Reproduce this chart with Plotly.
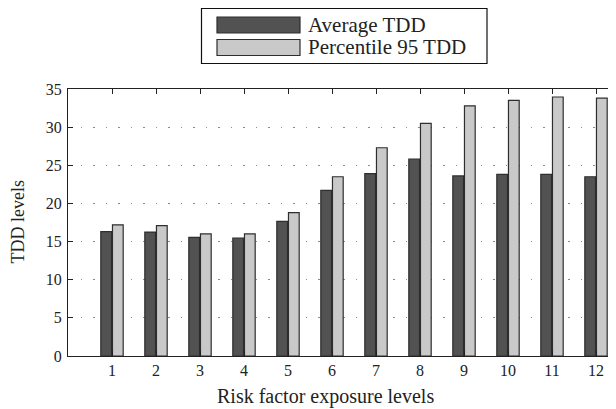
import plotly.graph_objects as go

categories = [str(i) for i in range(1, 13)]
series_names = ["Average TDD", "Percentile 95 TDD"]
average_tdd = [16.3, 16.25, 15.55, 15.45, 17.65, 21.7, 23.9, 25.8, 23.6, 23.8, 23.8, 23.5]
p95_tdd = [17.2, 17.1, 16.0, 16.0, 18.8, 23.5, 27.3, 30.5, 32.8, 33.5, 33.95, 33.8]
y_ticks = [0, 5, 10, 15, 20, 25, 30, 35]
x_title = "Risk factor exposure levels"
y_title = "TDD levels"

# The page body has an 8px margin, so the figure starts at (8, 8) in the window.
OFF = 8
W, H = 616 - OFF, 409 - OFF
L, R, T, B = 68 - OFF, 616 - OFF, 89 - OFF, 356 - OFF
FONT = "Liberation Serif, Times New Roman, serif"
DARK = "#525252"
LIGHT = "#c9c9c9"
EDGE = "#2e2e2e"

def px(x):
    return (x - OFF - L) / (R - L)

def py(y):
    return (B - (y - OFF)) / (B - T)

xs = list(range(1, 13))
fig = go.Figure()
fig.add_trace(go.Bar(x=xs, y=average_tdd, name=series_names[0],
                     marker=dict(color=DARK, line=dict(color=EDGE, width=1.2))))
fig.add_trace(go.Bar(x=xs, y=p95_tdd, name=series_names[1],
                     marker=dict(color=LIGHT, line=dict(color=EDGE, width=1.2))))

fig.update_layout(
    width=W, height=H,
    margin=dict(l=L, r=W - R, t=T, b=H - B, pad=0),
    paper_bgcolor="white", plot_bgcolor="white",
    barmode="group", bargap=0.47, bargroupgap=0.08,
    showlegend=False,
    font=dict(family=FONT, size=16, color="#222"),
    xaxis=dict(range=[0, (R - L) / 44.0], tickvals=xs, ticktext=categories,
               ticks="inside", ticklen=5, tickcolor="#222",
               showline=True, linecolor="#222", linewidth=1.2, mirror="ticks",
               showgrid=False, zeroline=False, tickfont=dict(size=16)),
    yaxis=dict(range=[0, 35], tickvals=y_ticks, ticks="inside", ticklen=5,
               tickcolor="#222", showline=True, linecolor="#222", linewidth=1.2,
               mirror=False, showgrid=True, gridcolor="#8a8a8a", gridwidth=1,
               griddash="1.5px,11px", zeroline=False, tickfont=dict(size=16),
               ticklabelstandoff=2),
    yaxis2=dict(overlaying="y", side="right", range=[0, 35], tickvals=y_ticks,
                ticks="inside", ticklen=5, tickcolor="#222", showticklabels=False,
                showgrid=False, zeroline=False, showline=False),
)

annotations = [
    dict(text=x_title, x=px(325), y=py(396), xref="paper", yref="paper",
         showarrow=False, font=dict(size=20, family=FONT, color="#222"),
         xanchor="center", yanchor="middle"),
    dict(text=y_title, x=px(17.5), y=py(222), xref="paper", yref="paper",
         showarrow=False, textangle=-90, font=dict(size=18, family=FONT, color="#222"),
         xanchor="center", yanchor="middle"),
]
shapes = [
    dict(type="rect", xref="paper", yref="paper", x0=px(201.5), x1=px(487),
         y0=py(8.5), y1=py(63.5), line=dict(color="#111", width=1.2), fillcolor="white"),
]
legend_rows = [(25, DARK), (47.5, LIGHT)]
for (cy, col), name in zip(legend_rows, series_names):
    shapes.append(dict(type="rect", xref="paper", yref="paper", x0=px(217), x1=px(300),
                       y0=py(cy - 8), y1=py(cy + 8), fillcolor=col,
                       line=dict(color=EDGE, width=1.2)))
    annotations.append(dict(text=name, x=px(306), y=py(cy), xref="paper", yref="paper",
                            showarrow=False, xanchor="left", yanchor="middle",
                            font=dict(size=21, family=FONT, color="#222")))
fig.update_layout(annotations=annotations, shapes=shapes)

fig.write_html("out.html")
